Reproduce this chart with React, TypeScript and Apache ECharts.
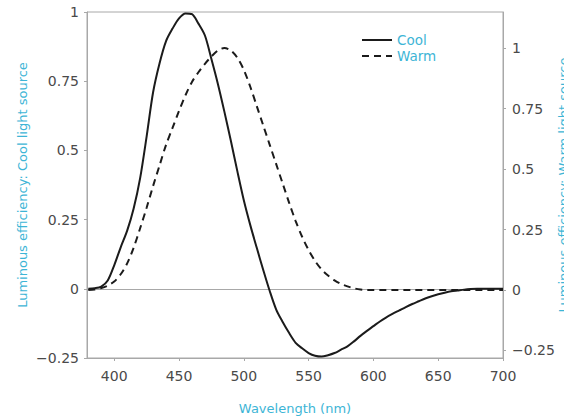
import React, { useEffect, useRef } from "react";
import * as echarts from "echarts";

const wavelengths = [
  380, 385, 390, 395, 400, 405, 410, 415, 420, 425, 430, 435, 440, 445, 450, 455, 460, 465, 470, 475,
  480, 485, 490, 495, 500, 505, 510, 515, 520, 525, 530, 535, 540, 545, 550, 555, 560, 565, 570, 575,
  580, 585, 590, 595, 600, 605, 610, 615, 620, 625, 630, 635, 640, 645, 650, 655, 660, 665, 670, 675,
  680, 685, 690, 695, 700,
];

const coolValues = [
  0, 0.002, 0.008, 0.03, 0.085, 0.15, 0.21, 0.29, 0.4, 0.55, 0.71, 0.815, 0.895, 0.94, 0.977, 0.995, 0.992, 0.958, 0.915, 0.83,
  0.74, 0.64, 0.535, 0.425, 0.32, 0.23, 0.148, 0.068, -0.008, -0.075, -0.12, -0.16, -0.195, -0.215, -0.232, -0.242, -0.245, -0.24, -0.232, -0.22,
  -0.208, -0.19, -0.17, -0.152, -0.135, -0.118, -0.103, -0.09, -0.078, -0.066, -0.055, -0.045, -0.035, -0.027, -0.02, -0.014, -0.009, -0.006, -0.003, -0.001,
  0, 0, 0, 0, 0,
];

const warmValues = [
  0, 0.002, 0.008, 0.018, 0.035, 0.065, 0.11, 0.175, 0.255, 0.34, 0.43, 0.515, 0.6, 0.67, 0.74, 0.805, 0.86, 0.9, 0.935, 0.965,
  0.99, 1.0, 0.99, 0.96, 0.91, 0.84, 0.76, 0.68, 0.6, 0.52, 0.44, 0.36, 0.285, 0.22, 0.165, 0.12, 0.085, 0.06, 0.04, 0.025,
  0.015, 0.007, 0.002, 0, 0, 0, 0, 0, 0, 0, 0, 0, 0, 0, 0, 0, 0, 0, 0, 0,
  0, 0, 0, 0, 0,
];

const xTicks = [400, 450, 500, 550, 600, 650, 700];
const leftTicks = [-0.25, 0, 0.25, 0.5, 0.75, 1];
const rightTicks = [-0.25, 0, 0.25, 0.5, 0.75, 1];

const CYAN = "#3db5d6";
const LABEL = "#4a4a4a";
const AXIS = "#a8a8a8";
const FONT = "DejaVu Sans";

export default function App() {
  const ref = useRef<HTMLDivElement>(null);
  useEffect(() => {
    if (!ref.current) return;
    const chart = echarts.init(ref.current, undefined, { renderer: "svg" });
    const fmt = (v: number) => (v < 0 ? "\u2212" + String(-v) : String(v));
    chart.setOption({
      animation: false,
      backgroundColor: "#ffffff",
      textStyle: { fontFamily: FONT },
      grid: {
        left: 87,
        right: 61,
        top: 12,
        bottom: 62,
        show: true,
        borderColor: AXIS,
        borderWidth: 1,
        containLabel: false,
        outerBoundsMode: "none",
      },
      legend: {
        left: 356,
        top: 28,
        orient: "vertical",
        itemWidth: 30,
        itemHeight: 14,
        itemGap: 2,
        itemStyle: { opacity: 0 },
        textStyle: { color: CYAN, fontSize: 13.5, fontFamily: FONT },
        data: ["Cool", "Warm"],
      },
      xAxis: {
        type: "value",
        min: 379,
        max: 700,
        name: "Wavelength (nm)",
        nameLocation: "middle",
        nameGap: 44,
        nameMoveOverlap: false,
        nameTextStyle: { color: CYAN, fontSize: 13, fontFamily: FONT },
        axisLine: { show: true, onZero: false, lineStyle: { color: AXIS } },
        axisTick: { show: true, length: 3, lineStyle: { color: AXIS }, customValues: xTicks },
        axisLabel: { color: LABEL, fontSize: 14, margin: 11, customValues: xTicks, fontFamily: FONT },
        splitLine: { show: false },
      },
      yAxis: [
        {
          type: "value",
          min: -0.25,
          max: 1,
          name: "Luminous efficiency: Cool light source",
          nameLocation: "middle",
          nameRotate: 90,
          nameGap: 58,
          nameMoveOverlap: false,
          nameTextStyle: { color: CYAN, fontSize: 13, fontFamily: FONT },
          axisLine: { show: true, lineStyle: { color: AXIS } },
          axisTick: { show: true, length: 3, lineStyle: { color: AXIS }, customValues: leftTicks },
          axisLabel: { color: LABEL, fontSize: 14, margin: 8, customValues: leftTicks, formatter: fmt, fontFamily: FONT },
          splitLine: { show: false },
        },
        {
          type: "value",
          position: "right",
          min: -0.281,
          max: 1.149,
          name: "Luminous efficiency: Warm light source",
          nameLocation: "middle",
          nameRotate: 90,
          nameGap: 54,
          nameMoveOverlap: false,
          nameTextStyle: { color: CYAN, fontSize: 13, fontFamily: FONT },
          axisLine: { show: true, lineStyle: { color: AXIS } },
          axisTick: { show: true, length: 3, lineStyle: { color: AXIS }, customValues: rightTicks },
          axisLabel: { color: LABEL, fontSize: 14, margin: 9, customValues: rightTicks, formatter: fmt, fontFamily: FONT },
          splitLine: { show: false },
        },
      ],
      series: [
        {
          name: "Cool",
          type: "line",
          yAxisIndex: 0,
          data: wavelengths.map((w, i) => [w, coolValues[i]]),
          showSymbol: false,
          symbol: "none",
          smooth: 0.3,
          lineStyle: { color: "#1b1b1b", width: 2, type: "solid" },
          itemStyle: { color: "#1b1b1b" },
          z: 3,
          markLine: {
            silent: true,
            symbol: "none",
            label: { show: false },
            lineStyle: { color: AXIS, width: 1, type: "solid" },
            data: [{ yAxis: 0 }],
            z: 1,
          },
        },
        {
          name: "Warm",
          type: "line",
          yAxisIndex: 1,
          data: wavelengths.map((w, i) => [w, warmValues[i]]),
          showSymbol: false,
          symbol: "none",
          smooth: 0.3,
          lineStyle: { color: "#1b1b1b", width: 2, type: [7, 5] },
          itemStyle: { color: "#1b1b1b" },
          z: 3,
        },
      ],
    });
    return () => chart.dispose();
  }, []);
  return (
    <div
      ref={ref}
      style={{ position: "fixed", left: 0, top: 0, width: 564, height: 420 }}
    />
  );
}
